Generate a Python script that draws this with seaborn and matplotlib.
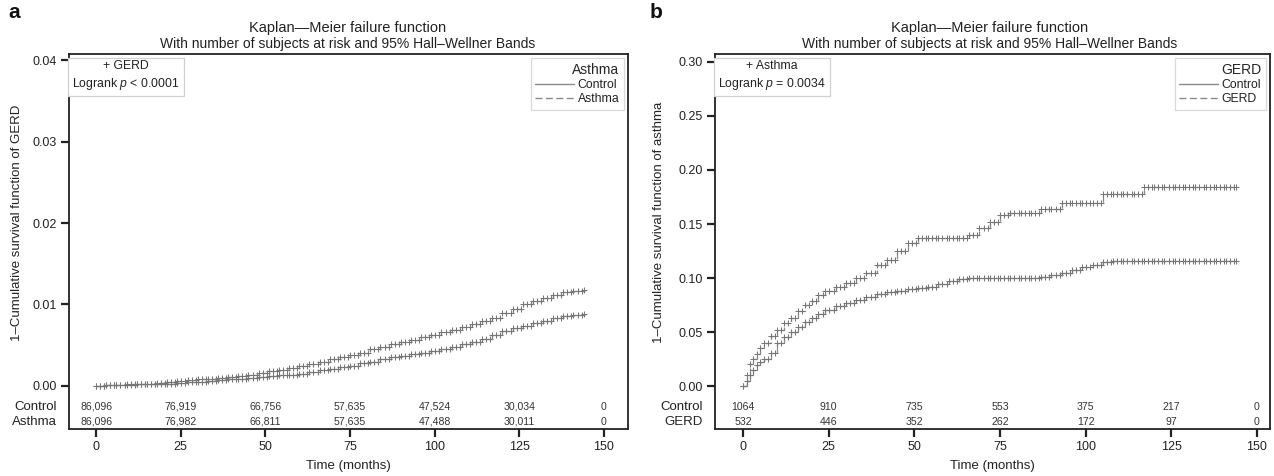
import numpy as np
import pandas as pd
import matplotlib
matplotlib.use("Agg")
import matplotlib.pyplot as plt
from matplotlib.lines import Line2D
import seaborn as sns

# ---------------- data ----------------
a_months = [0, 3, 6, 9, 12, 15, 18, 21, 24, 27, 30, 33, 36, 39, 42, 45, 48, 51, 54, 57,
            60, 63, 66, 69, 72, 75, 78, 81, 84, 87, 90, 93, 96, 99, 102, 105, 108, 111,
            114, 117, 120, 123, 126, 129, 132, 135, 138, 141, 144]

# Panel a: failure of GERD by asthma status
a_control = [0.0000, 0.0001, 0.0001, 0.0001, 0.0002, 0.0002, 0.0003, 0.0003, 0.0004, 0.0005,
             0.0005, 0.0006, 0.0007, 0.0008, 0.0009, 0.0010, 0.0011, 0.0012, 0.0013, 0.0014,
             0.0015, 0.0017, 0.0019, 0.0021, 0.0023, 0.0025, 0.0028, 0.0030, 0.0033, 0.0035,
             0.0037, 0.0039, 0.0041, 0.0043, 0.0045, 0.0048, 0.0051, 0.0054, 0.0058, 0.0062,
             0.0067, 0.0071, 0.0074, 0.0077, 0.0080, 0.0083, 0.0086, 0.0087, 0.0088]
a_asthma = [0.0000, 0.0001, 0.0001, 0.0002, 0.0002, 0.0003, 0.0004, 0.0005, 0.0006, 0.0007,
            0.0008, 0.0009, 0.0010, 0.0011, 0.0012, 0.0014, 0.0016, 0.0018, 0.0020, 0.0022,
            0.0024, 0.0027, 0.0030, 0.0033, 0.0035, 0.0038, 0.0041, 0.0045, 0.0048, 0.0051,
            0.0054, 0.0057, 0.0060, 0.0063, 0.0066, 0.0069, 0.0072, 0.0076, 0.0080, 0.0084,
            0.0089, 0.0095, 0.0100, 0.0104, 0.0108, 0.0112, 0.0115, 0.0117, 0.0118]

# Panel b: failure of asthma by GERD status
b_months = [0, 1, 2, 3, 4, 5, 6, 8, 10, 12, 14, 16, 18, 20, 22, 24,
            27, 30, 33, 36, 39, 42, 45, 48, 51, 54, 57,
            60, 63, 66, 69, 72, 75, 78, 81, 84, 87, 90, 93, 96, 99, 102, 105, 108, 111,
            114, 117, 120, 123, 126, 129, 132, 135, 138, 141, 144]
b_control = [0.000, 0.005, 0.010, 0.015, 0.019, 0.022, 0.025, 0.031, 0.040, 0.045,
             0.050, 0.055, 0.059, 0.063, 0.067, 0.070,
             0.074, 0.077, 0.080, 0.082, 0.085, 0.087, 0.088, 0.090, 0.091, 0.092, 0.094,
             0.097, 0.099, 0.100, 0.100, 0.100, 0.100, 0.100, 0.100, 0.100, 0.101,
             0.103, 0.105, 0.107, 0.110, 0.112, 0.115, 0.1157, 0.1157, 0.1157, 0.1157,
             0.1157, 0.1157, 0.1157, 0.1157, 0.1157, 0.1157, 0.1157, 0.1157, 0.1157]
b_gerd = [0.000, 0.010, 0.020, 0.025, 0.030, 0.035, 0.040, 0.046, 0.052, 0.058,
          0.063, 0.069, 0.075, 0.079, 0.084, 0.088,
          0.092, 0.095, 0.100, 0.105, 0.112, 0.117, 0.125, 0.132, 0.137, 0.137, 0.137,
          0.137, 0.137, 0.140, 0.146, 0.152, 0.158, 0.160, 0.160, 0.160, 0.164,
          0.164, 0.169, 0.169, 0.169, 0.169, 0.178, 0.178, 0.178, 0.178, 0.184,
          0.184, 0.184, 0.184, 0.184, 0.184, 0.184, 0.184, 0.184, 0.184]

risk_times = [0, 25, 50, 75, 100, 125, 150]
a_risk_control = ["86,096", "76,919", "66,756", "57,635", "47,524", "30,034", "0"]
a_risk_asthma = ["86,096", "76,982", "66,811", "57,635", "47,488", "30,011", "0"]
b_risk_control = ["1064", "910", "735", "553", "375", "217", "0"]
b_risk_gerd = ["532", "446", "352", "262", "172", "97", "0"]

a_yticks = [0.00, 0.01, 0.02, 0.03, 0.04]
b_yticks = [0.00, 0.05, 0.10, 0.15, 0.20, 0.25, 0.30]
xticks = [0, 25, 50, 75, 100, 125, 150]

# ---------------- style ----------------
sns.set_theme(style="ticks")
plt.rcParams["font.family"] = ["Liberation Sans", "DejaVu Sans"]
plt.rcParams["mathtext.fontset"] = "custom"
plt.rcParams["mathtext.it"] = "Liberation Sans:italic"
plt.rcParams["mathtext.rm"] = "Liberation Sans"

W, H = 1274, 476
fig = plt.figure(figsize=(W / 100, H / 100), dpi=100)


def px_axes(l, t, r, b):
    return fig.add_axes([l / W, 1 - b / H, (r - l) / W, (b - t) / H])


LINE_C = "#8a8a8a"
MARK_C = "#767676"


def censor_df(t, v):
    # censor marks placed on the step function, about one per month,
    # each carrying the value of the step it sits on
    tt, vv = [], []
    for i, (ti, vi) in enumerate(zip(t, v)):
        end = t[i + 1] if i + 1 < len(t) else ti + 0.5
        x = ti
        while x < end:
            tt.append(x)
            vv.append(vi)
            x += 1.2
    return pd.DataFrame({"t": tt, "v": vv})


def panel(ax, months, curves, xlim, ylim, yticks, yfmt, ylabel, risk_rows, row_labels,
          legend_title, legend_labels, info, label_x):
    for (vals, ls) in curves:
        df = pd.DataFrame({"t": months, "v": vals})
        sns.lineplot(data=df, x="t", y="v", ax=ax, color=LINE_C, lw=0.9,
                     linestyle=ls, drawstyle="steps-post", estimator=None)
        cd = censor_df(months, vals)
        sns.scatterplot(data=cd, x="t", y="v", ax=ax, marker="+", s=20,
                        color=MARK_C, linewidth=0.75, zorder=3)
    ax.set_xlim(*xlim)
    ax.set_ylim(*ylim)
    ax.set_xticks(xticks)
    ax.set_xticklabels([str(x) for x in xticks])
    ax.set_yticks(yticks)
    ax.set_yticklabels([yfmt.format(y) for y in yticks])
    ax.tick_params(axis="both", direction="out", length=6, width=1.6,
                   color="#222222", labelsize=9, labelcolor="#222222", pad=3)
    for s in ax.spines.values():
        s.set_linewidth(1.3)
        s.set_color("#222222")
    ax.set_xlabel("Time (months)", fontsize=9.5, color="#222222", labelpad=5)
    ax.set_ylabel(ylabel, fontsize=9.5, color="#222222")
    ax.yaxis.set_label_coords(label_x, 0.55)

    # number at risk rows inside the plot region
    trans = ax.get_xaxis_transform()
    for row, yfrac in zip(risk_rows, (0.059, 0.019)):
        for t, s in zip(risk_times, row):
            ax.text(t, yfrac, s, transform=trans, ha="center", va="center",
                    fontsize=7.6, color="#333333")
    for lab, yfrac in zip(row_labels, (0.059, 0.019)):
        ax.text(-0.022, yfrac, lab, transform=ax.transAxes, ha="right",
                va="center", fontsize=9.5, color="#222222")

    # info box
    ax.text(0.006, 0.983, info, transform=ax.transAxes, ha="left", va="top",
            multialignment="center", fontsize=8.8, color="#222222", linespacing=1.3,
            bbox=dict(boxstyle="square,pad=0.35", fc="white", ec="#d0d0d0", lw=0.9))

    handles = [Line2D([], [], color=LINE_C, lw=1.0, ls="-"),
               Line2D([], [], color=LINE_C, lw=1.0, ls=(0, (5, 2.5)))]
    leg = ax.legend(handles, legend_labels, title=legend_title, loc="upper right",
                    fontsize=8.8, title_fontsize=10, frameon=True, fancybox=False,
                    edgecolor="#d0d0d0", handlelength=3.2, handletextpad=0.3,
                    borderaxespad=0.35, borderpad=0.35, labelspacing=0.2,
                    alignment="right")
    leg.get_frame().set_linewidth(0.9)
    for tx in leg.get_texts():
        tx.set_color("#222222")


# panel a
ax1 = px_axes(69, 54, 628, 429)
panel(ax1, a_months, [(a_control, "-"), (a_asthma, (0, (5, 2.5)))], (-8, 157.1),
      (-0.00528, 0.04074), a_yticks, "{:.2f}",
      "1\u2013Cumulative survival function of GERD",
      [a_risk_control, a_risk_asthma], ["Control", "Asthma"],
      "Asthma", ["Control", "Asthma"], "+ GERD\nLogrank $p$ < 0.0001", -0.082)

# panel b
ax2 = px_axes(715, 54, 1270, 429)
panel(ax2, b_months, [(b_control, "-"), (b_gerd, (0, (5, 2.5)))], (-8.2, 153.8),
      (-0.0398, 0.3074), b_yticks, "{:.2f}",
      "1\u2013Cumulative survival function of asthma",
      [b_risk_control, b_risk_gerd], ["Control", "GERD"],
      "GERD", ["Control", "GERD"], "+ Asthma\nLogrank $p$ = 0.0034", -0.09)

# titles and panel letters
for cx, letter, lx in ((348, "a", 8), (990, "b", 650)):
    fig.text(cx / W, 1 - 28 / H, "Kaplan\u2014Meier failure function", ha="center",
             va="center", fontsize=10.5, color="#222222")
    fig.text(cx / W, 1 - 44 / H,
             "With number of subjects at risk and 95% Hall\u2013Wellner Bands",
             ha="center", va="center", fontsize=10, color="#222222")
    fig.text(lx / W, 1 - 13 / H, letter, ha="left", va="center", fontsize=15,
             fontweight="bold", color="#111111")

fig.savefig("out.png", dpi=100, facecolor="white")
